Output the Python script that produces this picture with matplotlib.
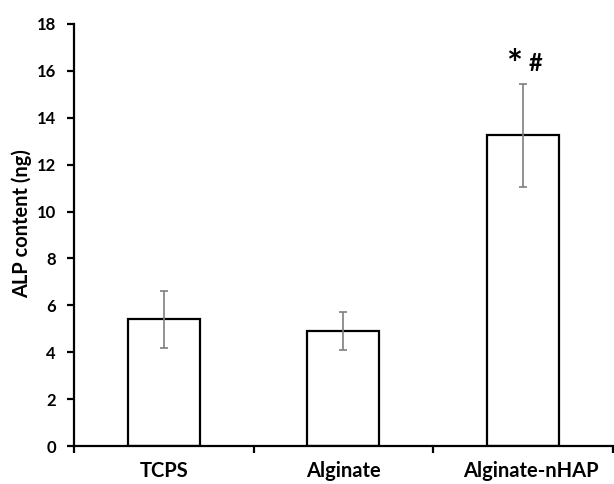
import matplotlib
matplotlib.use("Agg")
import matplotlib.pyplot as plt
import matplotlib.transforms as mtransforms
import numpy as np

categories = ["TCPS", "Alginate", "Alginate-nHAP"]
alp_mean = [5.4, 4.9, 13.25]
alp_err = [1.2, 0.8, 2.2]
sig_marks = ["*", "#"]

plt.rcParams['font.family'] = ['Lato', 'DejaVu Sans']
plt.rcParams['font.weight'] = 'bold'

fig = plt.figure(figsize=(6.14, 4.84), dpi=100)
ax = fig.add_axes([0.1205, 0.0785, 0.8775, 0.872])

x = np.arange(len(categories))
ax.bar(x, alp_mean, width=0.4, color='white', edgecolor='black', linewidth=1.6, zorder=2)
ax.errorbar(x, alp_mean, yerr=alp_err, fmt='none', ecolor='#7f7f7f',
            elinewidth=1.2, capsize=3, capthick=1.2, zorder=3)

# significance marks above the last bar
ax.text(x[2] - 0.05, 16.2, sig_marks[0], fontsize=27, fontweight='bold', ha='center', va='center')
ax.text(x[2] + 0.072, 16.3, sig_marks[1], fontsize=17, fontweight='bold', ha='center', va='center')

ax.set_xlim(-0.5, 2.5)
ax.set_ylim(0, 18)
ax.set_yticks(np.arange(0, 19, 2))
ax.set_xticks(x)
ax.set_xticklabels(categories, fontsize=14.5, fontweight='bold')
ax.set_xticks([-0.5, 0.5, 1.5, 2.5], minor=True)
ax.tick_params(axis='x', which='major', length=0, pad=11)
ax.tick_params(axis='x', which='minor', length=5, width=1.6, direction='out')
ax.tick_params(axis='y', length=5, width=1.6, direction='out', labelsize=12, pad=8)
for lab in ax.get_yticklabels():
    lab.set_fontweight('bold')
# the long last label sits a little right of its bar in the original
last = ax.get_xticklabels()[-1]
last.set_transform(last.get_transform() + mtransforms.ScaledTranslation(0.08, 0, fig.dpi_scale_trans))

ax.set_ylabel("ALP content (ng)", fontsize=14.4, fontweight='bold')
ax.yaxis.set_label_coords(-0.078, 0.526)

for s in ['top', 'right']:
    ax.spines[s].set_visible(False)
for s in ['left', 'bottom']:
    ax.spines[s].set_linewidth(1.6)

fig.savefig("out.png", dpi=100)
